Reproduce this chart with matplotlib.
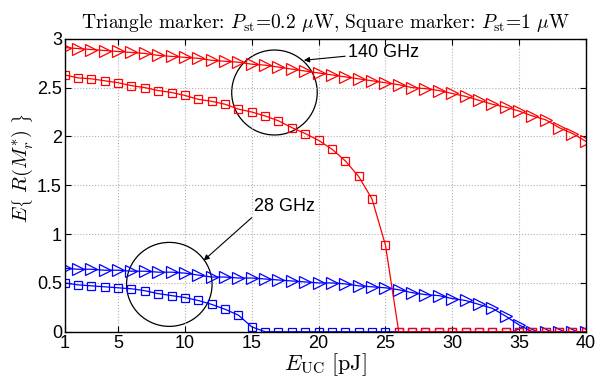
import numpy as np
import matplotlib
matplotlib.use("Agg")
import matplotlib.pyplot as plt
from matplotlib.patches import Ellipse
from matplotlib import font_manager

# 数据 (E_UC, 1..40 pJ)
e_uc = list(range(1, 41))

# 140 GHz, 三角: P_st = 0.2 uW
r140_tri = [2.91, 2.90, 2.89, 2.88, 2.87, 2.86, 2.85, 2.83, 2.82, 2.81,
            2.80, 2.78, 2.77, 2.76, 2.74, 2.73, 2.71, 2.69, 2.67, 2.65,
            2.63, 2.61, 2.59, 2.57, 2.55, 2.53, 2.50, 2.49, 2.47, 2.44,
            2.41, 2.37, 2.33, 2.30, 2.26, 2.21, 2.17, 2.09, 2.03, 1.95]
# 140 GHz, 方块: P_st = 1 uW
r140_sq = [2.63, 2.60, 2.59, 2.57, 2.55, 2.52, 2.50, 2.47, 2.45, 2.42,
           2.38, 2.36, 2.33, 2.28, 2.25, 2.21, 2.16, 2.09, 2.03, 1.96,
           1.87, 1.75, 1.59, 1.36, 0.89, 0, 0, 0, 0, 0,
           0, 0, 0, 0, 0, 0, 0, 0, 0, 0]
# 28 GHz, 三角
r28_tri = [0.65, 0.64, 0.64, 0.63, 0.63, 0.62, 0.62, 0.61, 0.61, 0.60,
           0.58, 0.56, 0.56, 0.55, 0.55, 0.54, 0.53, 0.52, 0.51, 0.50,
           0.50, 0.49, 0.47, 0.46, 0.45, 0.43, 0.40, 0.38, 0.37, 0.34,
           0.32, 0.28, 0.24, 0.16, 0.07, 0, 0, 0, 0, 0]
# 28 GHz, 方块
r28_sq = [0.50, 0.48, 0.47, 0.46, 0.45, 0.44, 0.42, 0.39, 0.37, 0.35,
          0.32, 0.28, 0.23, 0.17, 0.05, 0, 0, 0, 0, 0,
          0, 0, 0, 0, 0, 0, 0, 0, 0, 0,
          0, 0, 0, 0, 0, 0, 0, 0, 0, 0]

xticks = [1, 5, 10, 15, 20, 25, 30, 35, 40]
yticks = [0, 0.5, 1, 1.5, 2, 2.5, 3]
ytick_labels = ["0", "0.5", "1", "1.5", "2", "2.5", "3"]

plt.rcParams["mathtext.fontset"] = "cm"
names = {f.name for f in font_manager.fontManager.ttflist}
tick_font = "Liberation Sans Narrow" if "Liberation Sans Narrow" in names else "Liberation Sans"

fig = plt.figure(figsize=(6.16, 3.88), dpi=100)
ax = fig.add_axes([0.105, 0.145, 0.846, 0.755])

ax.plot(e_uc, r28_tri, color="b", lw=0.9, marker=">", ms=9, mfc="none", mew=0.9)
ax.plot(e_uc, r28_sq, color="b", lw=0.9, marker="s", ms=6, mfc="none", mew=0.9)
ax.plot(e_uc, r140_tri, color="r", lw=0.9, marker=">", ms=9, mfc="none", mew=0.9)
ax.plot(e_uc, r140_sq, color="r", lw=0.9, marker="s", ms=6, mfc="none", mew=0.9)

# 圈和箭头
ax.add_patch(Ellipse((16.7, 2.45), 6.4, 0.87, fill=False, ec="k", lw=0.9))
ax.add_patch(Ellipse((8.83, 0.485), 6.4, 0.86, fill=False, ec="k", lw=0.9))
ax.annotate("140 GHz", xy=(18.9, 2.78), xytext=(22.2, 2.86),
            fontsize=13, family=tick_font, va="center", ha="left",
            arrowprops=dict(arrowstyle="-|>", color="k", lw=0.8,
                            mutation_scale=8, shrinkA=0, shrinkB=0))
ax.annotate("28 GHz", xy=(11.4, 0.73), xytext=(15.2, 1.28),
            fontsize=13, family=tick_font, va="center", ha="left",
            arrowprops=dict(arrowstyle="-|>", color="k", lw=0.8,
                            mutation_scale=8, shrinkA=0, shrinkB=0,
                            relpos=(0.0, 0.0)))

ax.set_xlim(1, 40)
ax.set_ylim(0, 3)
ax.set_xticks(xticks)
ax.set_yticks(yticks)
ax.set_yticklabels(ytick_labels)
for lab in ax.get_xticklabels() + ax.get_yticklabels():
    lab.set_family(tick_font)
    lab.set_fontsize(13)
ax.tick_params(direction="in", top=True, right=True, length=4, width=0.8, pad=2)
ax.grid(True, ls=":", color="#b0b0b0", lw=0.8)
for s in ax.spines.values():
    s.set_linewidth(1.0)

ax.set_xlabel(r"$E_{\mathrm{UC}}\ [\mathrm{pJ}]$", fontsize=16, labelpad=0)
ax.set_ylabel(r"$E\left\{\ R\left(M_r^{*}\right)\ \right\}$", fontsize=15)
ax.yaxis.set_label_coords(-0.056, 0.56)
ax.set_title("Triangle marker: $P_{\\mathrm{st}}$=0.2 $\\mu$W, "
             "Square marker: $P_{\\mathrm{st}}$=1 $\\mu$W",
             fontsize=14, family="cmr10", pad=8)

fig.savefig("out.png", dpi=100)
